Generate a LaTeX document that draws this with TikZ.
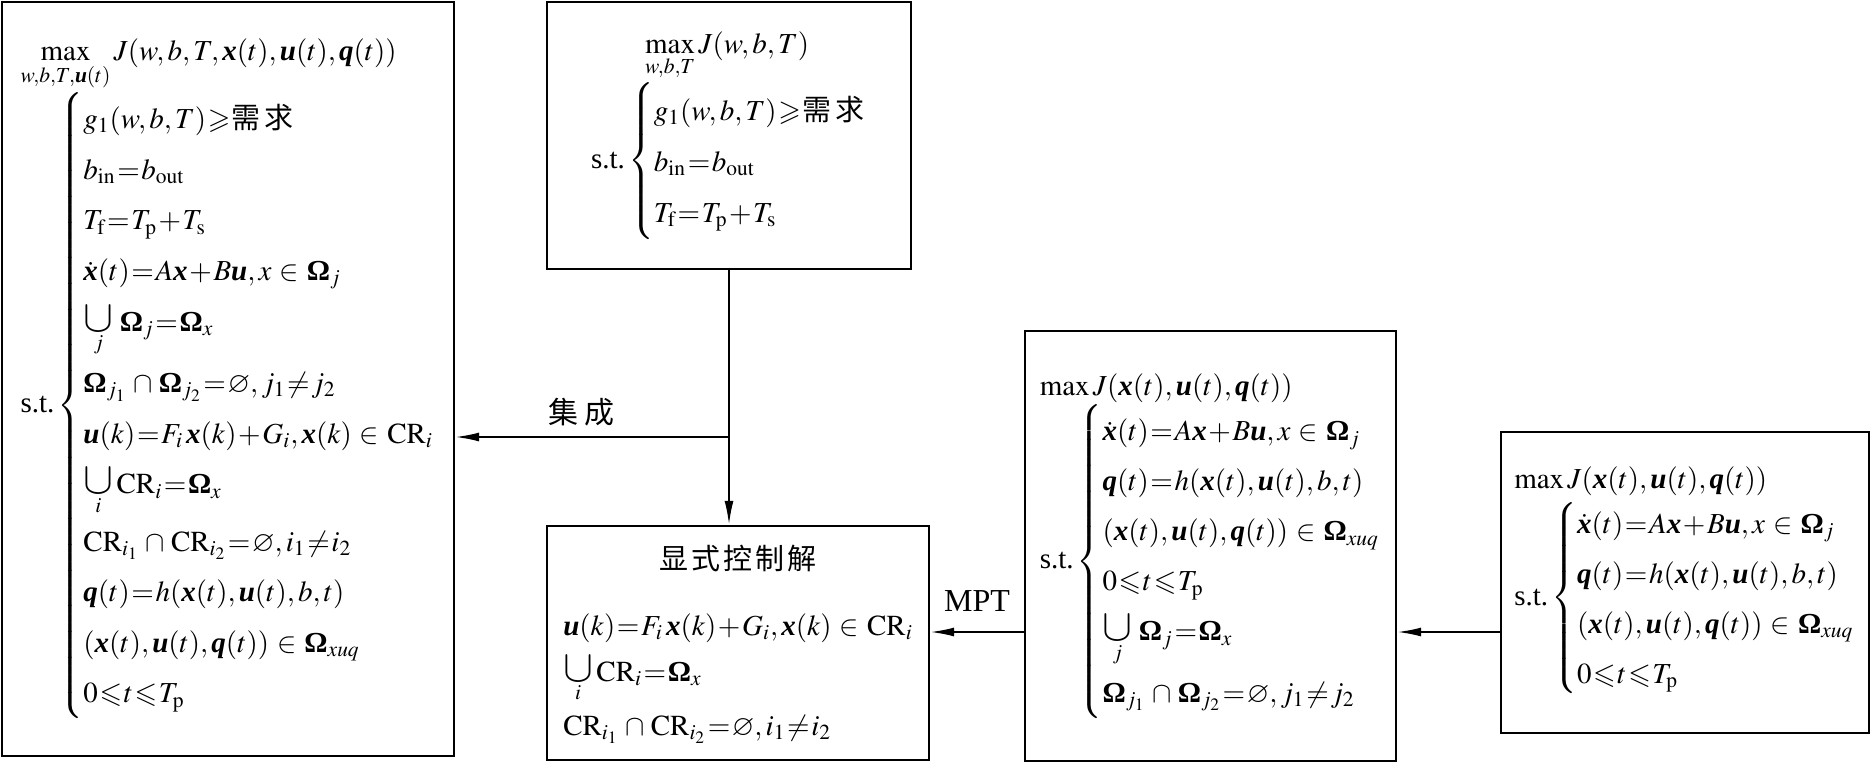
\documentclass[tikz,border=0pt]{standalone}
\usepackage{amsmath,amssymb}
\usepackage{mathptmx}
\usepackage{fontspec}
\setmainfont{Liberation Serif}
\newfontfamily\cjk{Noto Sans CJK SC}
\usetikzlibrary{positioning,arrows.meta}
\newcommand{\bv}[1]{\text{\bfseries\itshape #1}}
\newcommand{\bO}{\text{\bfseries Ω}}
\newcommand{\inn}{\mathrel{\mskip4mu\in\mskip4mu}}
\newcommand{\cupp}{\mathbin{\mskip3mu\cap\mskip3mu}}
\newcommand{\uni}[1]{\mathop{\scalebox{1.55}{$\cup$}}\limits_{#1}}
\newcommand{\xuqin}{(\bv{x}(t),\bv{u}(t),\bv{q}(t))\inn\bO_{xuq}}
\thickmuskip=1mu plus 1mu
\medmuskip=1mu plus 1mu
\tikzstyle{model} = [rectangle, draw=black, line width=1.2pt, inner sep=0pt, align=left]
\tikzstyle{arrow} = [line width=1pt, -{Latex[length=12pt,width=4.5pt]}]
\tikzstyle{every node}=[font=\fontsize{14.5}{25}\selectfont]

\begin{document}
\begin{tikzpicture}[x=0.5pt,y=-0.5pt]
		\useasboundingbox (0,0) rectangle (1873,765);
		%模型框
		\node (L) [model, minimum width=226pt, minimum height=377pt, font=\fontsize{14.5}{25.3}\selectfont] at (228,379)
		{$\displaystyle\max_{w,b,T,\bv{u}(t)} J(w,b,T,\bv{x}(t),\bv{u}(t),\bv{q}(t))$\\
			$\text{s.t.}\left\{\begin{array}{@{}l@{}}
				g_1(w,b,T)\geqslant\text{\cjk 需\hspace{2pt}求}\\
				b_{\mathrm{in}}=b_{\mathrm{out}}\\
				T_{\mathrm f}=T_{\mathrm p}+T_{\mathrm s}\\
				\dot{\bv{x}}(t)=A\bv{x}+B\bv{u},x\inn\bO_j\\
				\uni{j}\,\bO_j=\bO_x\\
				\bO_{j_1}\cupp\bO_{j_2}=\varnothing,j_1\neq j_2\\
				\bv{u}(k)=F_i\,\bv{x}(k)+G_i,\bv{x}(k)\inn\mathrm{CR}_i\\
				\uni{i}\mathrm{CR}_i=\bO_x\\
				\mathrm{CR}_{i_1}\cupp\mathrm{CR}_{i_2}=\varnothing,i_1\neq i_2\\
				\bv{q}(t)=h(\bv{x}(t),\bv{u}(t),b,t)\\
				\xuqin\\
				0\leqslant t\leqslant T_{\mathrm p}
			\end{array}\right.$};
		\node (T) [model, minimum width=182pt, minimum height=133.5pt, font=\fontsize{14.5}{25.5}\selectfont] at (729,135.5)
		{\hspace{27pt}$\displaystyle\max_{w,b,T} J(w,b,T)$\\
			$\text{s.t.}\left\{\begin{array}{@{}l@{}}
				g_1(w,b,T)\geqslant\text{\cjk 需\hspace{2pt}求}\\
				b_{\mathrm{in}}=b_{\mathrm{out}}\\
				T_{\mathrm f}=T_{\mathrm p}+T_{\mathrm s}
			\end{array}\right.$};
		\node (E) [model, minimum width=191pt, minimum height=117pt, font=\fontsize{14.5}{23}\selectfont] at (738,643)
		{\begin{tabular}{@{}l@{}}
				\multicolumn{1}{@{}c@{}}{\cjk 显\hspace{1.5pt}式\hspace{1.5pt}控\hspace{1.5pt}制\hspace{1.5pt}解}\\[10pt]
				$\bv{u}(k)=F_i\,\bv{x}(k)+G_i,\bv{x}(k)\inn\mathrm{CR}_i$\\
				$\uni{i}\mathrm{CR}_i=\bO_x$\\
				$\mathrm{CR}_{i_1}\cupp\mathrm{CR}_{i_2}=\varnothing,i_1\neq i_2$
		\end{tabular}};
		\node (M) [model, minimum width=185.5pt, minimum height=215pt, font=\fontsize{14.5}{25}\selectfont] at (1210.5,546)
		{$\max J(\bv{x}(t),\bv{u}(t),\bv{q}(t))$\\
			$\text{s.t.}\left\{\begin{array}{@{}l@{}}
				\dot{\bv{x}}(t)=A\bv{x}+B\bv{u},x\inn\bO_j\\
				\bv{q}(t)=h(\bv{x}(t),\bv{u}(t),b,t)\\
				\xuqin\\
				0\leqslant t\leqslant T_{\mathrm p}\\
				\uni{j}\,\bO_j=\bO_x\\
				\bO_{j_1}\cupp\bO_{j_2}=\varnothing,j_1\neq j_2
			\end{array}\right.$};
		\node (R) [model, minimum width=184pt, minimum height=150.5pt, font=\fontsize{14.5}{25}\selectfont] at (1685,582.5)
		{$\max J(\bv{x}(t),\bv{u}(t),\bv{q}(t))$\\
			$\text{s.t.}\left\{\begin{array}{@{}l@{}}
				\dot{\bv{x}}(t)=A\bv{x}+B\bv{u},x\inn\bO_j\\
				\bv{q}(t)=h(\bv{x}(t),\bv{u}(t),b,t)\\
				\xuqin\\
				0\leqslant t\leqslant T_{\mathrm p}
			\end{array}\right.$};
		
		%连接
		\coordinate (junc) at (T.south |- 0,437);
		\draw [arrow] (T.south) -- (T.south |- E.north);
		\draw [arrow] (junc) -- node[above=5pt, pos=0.54, inner sep=0pt, font=\fontsize{15}{16}\selectfont] (jicheng) {\cjk 集\hspace{3pt}成} (L.east |- junc);
		\draw [arrow] (M.west |- 0,632) -- node[above=10pt, inner sep=0pt, font=\fontsize{16}{18}\selectfont] (mpt) {MPT} (E.east |- 0,632);
		\draw [arrow] (R.west |- 0,632) -- (M.east |- 0,632);
	\end{tikzpicture}
\end{document}
